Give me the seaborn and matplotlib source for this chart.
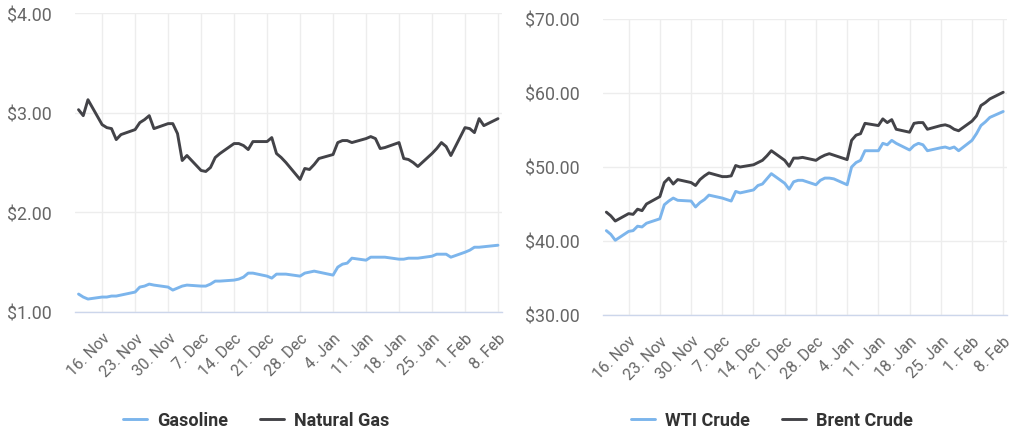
import matplotlib
matplotlib.use("Agg")
import matplotlib.pyplot as plt
import seaborn as sns
import pandas as pd
import numpy as np
from matplotlib.ticker import FuncFormatter

# ---------------- data ----------------
dates = pd.bdate_range("2020-11-11", "2021-02-08")

gasoline = [1.18, 1.15, 1.13,
            1.15, 1.15, 1.16, 1.16, 1.17,
            1.20, 1.25, 1.26, 1.28, 1.27,
            1.25, 1.22, 1.24, 1.26, 1.27,
            1.26, 1.26, 1.28, 1.31, 1.31,
            1.32, 1.33, 1.35, 1.39, 1.39,
            1.36, 1.34, 1.38, 1.38, 1.38,
            1.36, 1.39, 1.40, 1.41, 1.40,
            1.37, 1.45, 1.48, 1.49, 1.54,
            1.52, 1.55, 1.55, 1.55, 1.55,
            1.53, 1.53, 1.54, 1.54, 1.54,
            1.56, 1.58, 1.58, 1.58, 1.55,
            1.60, 1.62, 1.65, 1.65, 1.655,
            1.67]

natural_gas = [3.03, 2.97, 3.13,
               2.88, 2.85, 2.84, 2.73, 2.78,
               2.83, 2.90, 2.93, 2.97, 2.84,
               2.89, 2.89, 2.79, 2.52, 2.57,
               2.42, 2.41, 2.45, 2.55, 2.59,
               2.69, 2.69, 2.67, 2.63, 2.71,
               2.71, 2.75, 2.59, 2.55, 2.50,
               2.33, 2.44, 2.43, 2.48, 2.54,
               2.58, 2.70, 2.72, 2.72, 2.70,
               2.74, 2.76, 2.74, 2.64, 2.65,
               2.70, 2.54, 2.53, 2.50, 2.46,
               2.59, 2.64, 2.70, 2.66, 2.57,
               2.85, 2.84, 2.80, 2.94, 2.87,
               2.94]

wti_crude = [41.4, 40.9, 40.1,
             41.3, 41.4, 42.0, 41.9, 42.4,
             43.0, 44.9, 45.4, 45.8, 45.5,
             45.4, 44.6, 45.2, 45.6, 46.2,
             45.8, 45.6, 45.4, 46.7, 46.5,
             46.9, 47.5, 47.7, 48.4, 49.1,
             47.8, 47.0, 48.0, 48.2, 48.2,
             47.6, 48.2, 48.5, 48.5, 48.4,
             47.6, 50.0, 50.6, 50.9, 52.2,
             52.2, 53.2, 53.0, 53.6, 53.2,
             52.3, 52.9, 53.2, 53.0, 52.2,
             52.6, 52.7, 52.5, 52.7, 52.2,
             53.6, 54.5, 55.6, 56.1, 56.7,
             57.5]

brent_crude = [43.9, 43.4, 42.7,
               43.7, 43.6, 44.3, 44.1, 45.0,
               46.0, 47.9, 48.5, 47.7, 48.3,
               47.9, 47.5, 48.3, 48.8, 49.2,
               48.7, 48.7, 48.8, 50.2, 50.0,
               50.3, 50.6, 50.9, 51.5, 52.2,
               50.9, 50.1, 51.2, 51.2, 51.3,
               50.9, 51.3, 51.6, 51.8, 51.6,
               51.0, 53.6, 54.3, 54.5, 55.9,
               55.6, 56.5, 56.0, 56.4, 55.1,
               54.7, 55.9, 56.0, 56.0, 55.1,
               55.6, 55.7, 55.5, 55.1, 54.9,
               56.2, 56.9, 58.3, 58.7, 59.2,
               60.1]

tick_dates = pd.date_range("2020-11-16", "2021-02-08", freq="7D")
tick_labels = ["16. Nov", "23. Nov", "30. Nov", "7. Dec", "14. Dec", "21. Dec",
               "28. Dec", "4. Jan", "11. Jan", "18. Jan", "25. Jan", "1. Feb", "8. Feb"]

left_yticks = [1, 2, 3, 4]
right_yticks = [30, 40, 50, 60, 70]

# ---------------- style ----------------
sns.set_style("white")
plt.rcParams["font.family"] = ["Roboto", "DejaVu Sans"]

BLUE = "#7cb5ec"
DARK = "#434348"
GRID = "#ededed"
AXIS = "#ccd6eb"
LABEL = "#666666"

fig = plt.figure(figsize=(10.13, 4.31), dpi=100)
ax1 = fig.add_axes([75 / 1013, (431 - 313) / 431, 427 / 1013, 299 / 431])
ax2 = fig.add_axes([603 / 1013, (431 - 316) / 431, 404 / 1013, 296 / 431])

df_left = pd.DataFrame({
    "date": list(dates) * 2,
    "value": gasoline + natural_gas,
    "series": ["Gasoline"] * len(dates) + ["Natural Gas"] * len(dates),
})
df_right = pd.DataFrame({
    "date": list(dates) * 2,
    "value": wti_crude + brent_crude,
    "series": ["WTI Crude"] * len(dates) + ["Brent Crude"] * len(dates),
})

sns.lineplot(data=df_left, x="date", y="value", hue="series", ax=ax1,
             palette={"Gasoline": BLUE, "Natural Gas": DARK}, linewidth=2.1)
sns.lineplot(data=df_right, x="date", y="value", hue="series", ax=ax2,
             palette={"WTI Crude": BLUE, "Brent Crude": DARK}, linewidth=2.1)

x0 = pd.Timestamp("2020-11-16") - pd.Timedelta(days=5.75)
x1 = pd.Timestamp("2020-11-16") + pd.Timedelta(days=84.85)

for ax, yt, ylim, legx in [(ax1, left_yticks, (1, 4), 256 / 1013),
                           (ax2, right_yticks, (30, 70), 772 / 1013)]:
    ax.set_xlim(x0, x1)
    ax.set_ylim(*ylim)
    ax.set_yticks(yt)
    ax.yaxis.set_major_formatter(FuncFormatter(lambda v, p: f"${v:.2f}"))
    ax.set_xticks(tick_dates)
    ax.set_xticklabels(tick_labels, rotation=45, ha="right", rotation_mode="anchor")
    ax.set_xlabel("")
    ax.set_ylabel("")
    ax.grid(True, color=GRID, linewidth=1.0)
    ax.set_axisbelow(True)
    for s in ["top", "right", "left"]:
        ax.spines[s].set_visible(False)
    ax.spines["bottom"].set_color(AXIS)
    ax.spines["bottom"].set_linewidth(1.0)
    ax.tick_params(axis="x", length=11, width=1, color=AXIS, labelsize=11.3,
                   labelcolor=LABEL, pad=2, direction="out")
    ax.tick_params(axis="y", length=0, labelsize=12.8, labelcolor=LABEL, pad=16.5)
    handles, labels = ax.get_legend_handles_labels()
    if ax.get_legend() is not None:
        ax.get_legend().remove()
    leg = fig.legend(handles, labels, loc="center", bbox_to_anchor=(legx, 10 / 431),
                     ncol=2, frameon=False, handlelength=1.35, handletextpad=0.55,
                     columnspacing=1.75, prop={"size": 13, "weight": "bold"})
    for t in leg.get_texts():
        t.set_color("#333333")
    for l in leg.get_lines():
        l.set_linewidth(2.1)

fig.savefig("out.png", dpi=100, facecolor="white")
